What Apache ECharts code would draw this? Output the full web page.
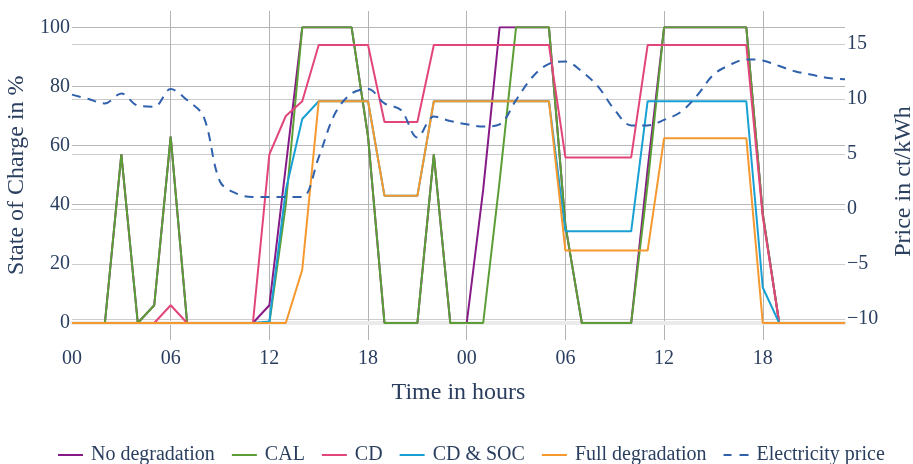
<!DOCTYPE html>
<html>
<head>
<meta charset="utf-8">
<script src="https://cdn.jsdelivr.net/npm/echarts@6/dist/echarts.min.js"></script>
<style>
html,body{margin:0;padding:0;background:#fff;}
#chart{width:913px;height:464px;}
</style>
</head>
<body>
<div id="chart"></div>
<script>
// ---- Data ----
const hours = [0,1,2,3,4,5,6,7,8,9,10,11,12,13,14,15,16,17,18,19,20,21,22,23,
               24,25,26,27,28,29,30,31,32,33,34,35,36,37,38,39,40,41,42,43,44,45,46,47];
const xTickLabels = ['00','06','12','18','00','06','12','18'];
const socTicks = [0,20,40,60,80,100];
const priceTicks = [-10,-5,0,5,10,15];

const noDegradation = [0,0,0,57,0,6,63,0,0,0, 0,0,6,53,100,100,100,100,63,0,
                       0,0,57,0,0,45,100,100,100,100, 33,0,0,0,0,52,100,100,100,100,
                       100,100,37,0,0,0,0,0];
const cal = [0,0,0,57,0,6,63,0,0,0, 0,0,0,40,100,100,100,100,63,0,
             0,0,57,0,0,0,48,100,100,100, 33,0,0,0,0,47,100,100,100,100,
             100,100,37,0,0,0,0,0];
const cd = [0,0,0,0,0,0,6,0,0,0, 0,0,57,70,75,94,94,94,94,68,
            68,68,94,94,94,94,94,94,94,94, 56,56,56,56,56,94,94,94,94,94,
            94,94,36,0,0,0,0,0];
const cdSoc = [0,0,0,0,0,0,0,0,0,0, 0,0,0.5,45,69,75,75,75,75,43,
               43,43,75,75,75,75,75,75,75,75, 31,31,31,31,31,75,75,75,75,75,
               75,75,12,0,0,0,0,0];
const fullDeg = [0,0,0,0,0,0,0,0,0,0, 0,0,0,0,18,75,75,75,75,43,
                 43,43,75,75,75,75,75,75,75,75, 24.5,24.5,24.5,24.5,24.5,24.5,62.5,62.5,62.5,62.5,
                 62.5,62.5,0,0,0,0,0,0];
const price = [10.4,10.0,9.6,10.5,9.4,9.3,10.9,9.9,8.4,2.5, 1.4,1.1,1.1,1.1,1.1,4.7,8.7,10.5,10.9,9.6,
               9.0,6.5,8.4,8.0,7.7,7.5,7.7,9.9,12.0,13.2, 13.4,12.5,11.1,9.0,7.6,7.6,8.1,8.8,10.3,12.2,
               13.1,13.6,13.5,13.0,12.5,12.2,11.9,11.8];

const seriesNames = ['No degradation','CAL','CD','CD & SOC','Full degradation','Electricity price'];
const colors = ['#861a86','#5b9e36','#e2457a','#18a0d4','#f5982d','#2f61ad'];

// ---- Chart ----
const FONT = '"Liberation Serif", "Times New Roman", serif';
const TXT = '#2a3f5f';
const pair = arr => hours.map((h, i) => [h, arr[i]]);
const gL = 72, gR = 68;

const socSeries = [noDegradation, cal, cd, cdSoc, fullDeg].map((arr, k) => ({
  name: seriesNames[k], type: 'line', xAxisIndex: 1, yAxisIndex: 1,
  data: pair(arr), symbol: 'none', showSymbol: false,
  lineStyle: {color: colors[k], width: 2}, itemStyle: {color: colors[k]},
  z: 3 + k, silent: true, animation: false
}));
const priceSeries = {
  name: seriesNames[5], type: 'line', xAxisIndex: 2, yAxisIndex: 2,
  data: pair(price), symbol: 'none', showSymbol: false, smooth: 0.35,
  lineStyle: {color: colors[5], width: 2, type: [9, 7]}, itemStyle: {color: colors[5]},
  z: 10, silent: true, animation: false
};

const legendData = seriesNames.map((n, k) => ({
  name: n,
  icon: k === 5 ? 'path://M0 0H8V2H0Z M16 0H25V2H16Z' : 'rect',
  itemStyle: {color: colors[k]}
}));

const chart = echarts.init(document.getElementById('chart'), null, {renderer: 'canvas'});
chart.setOption({
  animation: false,
  backgroundColor: '#ffffff',
  color: colors,
  grid: [
    {left: gL, right: gR, top: 11, height: 329, outerBoundsMode: 'none', containLabel: false},
    {left: gL, right: gR, top: 27.3, height: 295.7, outerBoundsMode: 'none', containLabel: false},
    {left: gL, right: gR, top: 44, height: 275, outerBoundsMode: 'none', containLabel: false}
  ],
  xAxis: [
    {type: 'value', gridIndex: 0, min: 0, max: 47, interval: 6,
     axisLine: {show: false}, axisTick: {show: false},
     splitLine: {show: true, showMinLine: false, showMaxLine: false, lineStyle: {color: '#b3b3b3', width: 1}},
     axisLabel: {showMaxLabel: false, margin: 9, fontFamily: FONT, fontSize: 20, color: TXT,
                 formatter: v => xTickLabels[Math.round(v / 6)]},
     name: 'Time in hours', nameLocation: 'middle', nameGap: 41,
     nameTextStyle: {fontFamily: FONT, fontSize: 24, color: TXT}},
    {type: 'value', gridIndex: 1, min: 0, max: 47,
     axisLine: {show: true, onZero: true, lineStyle: {color: '#ebebeb', width: 4}},
     axisTick: {show: false}, axisLabel: {show: false}, splitLine: {show: false}},
    {type: 'value', gridIndex: 2, min: 0, max: 47, show: false}
  ],
  yAxis: [
    {type: 'value', gridIndex: 0, min: 0, max: 1, show: false},
    {type: 'value', gridIndex: 1, position: 'left', min: socTicks[0], max: socTicks[socTicks.length-1], interval: 20,
     axisLine: {show: false}, axisTick: {show: false},
     splitLine: {show: true, showMinLine: false, lineStyle: {color: '#b8b8b8', width: 1}},
     axisLabel: {margin: 2, fontFamily: FONT, fontSize: 20, color: TXT},
     name: 'State of Charge in %', nameLocation: 'middle', nameGap: 35, nameRotate: 90,
     nameTextStyle: {fontFamily: FONT, fontSize: 24, color: TXT}},
    {type: 'value', gridIndex: 2, position: 'right', min: priceTicks[0], max: priceTicks[priceTicks.length-1], interval: 5,
     axisLine: {show: false}, axisTick: {show: false},
     splitLine: {show: true, lineStyle: {color: '#cccccc', width: 1}},
     axisLabel: {margin: 2, fontFamily: FONT, fontSize: 20, color: TXT,
                 formatter: v => (v < 0 ? '\u2212' + Math.abs(v) : String(v))},
     name: 'Price in ct/kWh', nameLocation: 'middle', nameGap: 47, nameRotate: 90,
     nameTextStyle: {fontFamily: FONT, fontSize: 24, color: TXT}}
  ],
  legend: {
    data: legendData, left: 53, top: 440, itemWidth: 25, itemHeight: 2, itemGap: 17,
    textStyle: {fontFamily: FONT, fontSize: 20, color: TXT, padding: [0, 0, 0, 3]},
    selectedMode: false
  },
  series: [...socSeries, priceSeries]
});
</script>
</body>
</html>
